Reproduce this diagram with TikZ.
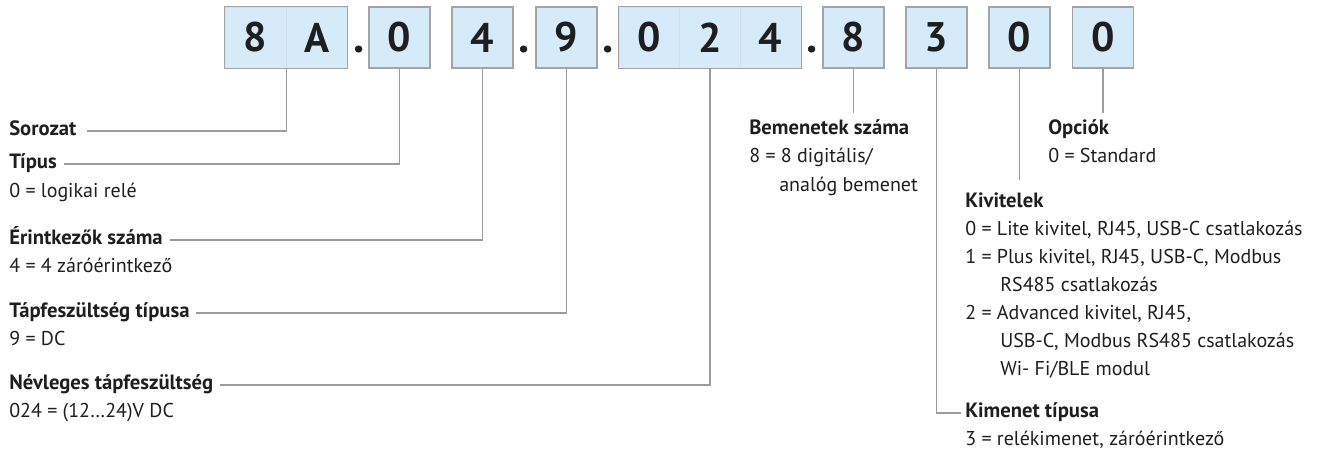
\documentclass[tikz,border=0pt]{standalone}
\usepackage{fontspec}
\setmainfont{PT Sans}
\usetikzlibrary{positioning}
\definecolor{CodeFill}{HTML}{D5EBFA}
\definecolor{CodeEdge}{HTML}{A4A4A4}
\definecolor{LeadGrey}{HTML}{9C9C9C}
\definecolor{InkDark}{HTML}{1E1E1E}

\begin{document}
\begin{tikzpicture}[x=0.75pt,y=-0.75pt,
    cell/.style={draw=CodeEdge,fill=CodeFill,line width=0.9pt,minimum width=45.75pt,minimum height=45.75pt,inner sep=0pt,font=\fontsize{31}{31}\selectfont\bfseries,text=InkDark},
    subcell/.style={cell,draw=CodeFill!85!CodeEdge,line width=0.5pt},
    dot/.style={anchor=base,inner sep=0pt,font=\fontsize{34}{34}\selectfont\bfseries,text=InkDark},
    head/.style={anchor=west,inner sep=0pt,font=\fontsize{15.5}{18}\selectfont\bfseries,text=InkDark,text height=10.5pt,text depth=3pt},
    desc/.style={anchor=west,inner sep=0pt,font=\fontsize{15}{18}\selectfont,text=InkDark,text height=10.5pt,text depth=3pt},
    lead/.style={draw=LeadGrey,line width=0.8pt}]
  \useasboundingbox (0,0) rectangle (1318,459);
  % code boxes
  \node[subcell] (c1) at (255.5,37.5) {8};
  \node[subcell] (c2) at (316.5,37.5) {A};
  \draw[cell,fill=none] (c1.north west) rectangle (c2.south east);
  \node[dot] (p1) at (359,53) {.};
  \node[cell] (b2) at (399.5,37.5) {0};
  \node[cell] (b3) at (482.5,37.5) {4};
  \node[dot] (p2) at (524,53) {.};
  \node[cell] (b4) at (566.5,37.5) {9};
  \node[dot] (p3) at (608,53) {.};
  \node[subcell] (d1) at (649.5,37.5) {0};
  \node[subcell] (d2) at (710,37.5) {2};
  \node[subcell] (d3) at (770.5,37.5) {4};
  \draw[cell,fill=none] (d1.north west) rectangle (d3.south east);
  \node[dot] (p4) at (812,53) {.};
  \node[cell] (b6) at (853.5,37.5) {8};
  \node[cell] (b7) at (936.5,37.5) {3};
  \node[cell] (b8) at (1019.5,37.5) {0};
  \node[cell] (b9) at (1103,37.5) {0};

  % left column
  \node[head] (ser) at (9,131) {Sorozat};
  \node[head] (typ) at (9,164) {Típus};
  \node[desc] (typd) at (9,193) {0 = logikai relé};
  \node[head] (cnt) at (9,240) {Érintkezők száma};
  \node[desc] (cntd) at (9,268) {4 = 4 záróérintkező};
  \node[head] (vtyp) at (9,313) {Tápfeszültség típusa};
  \node[desc] (vtypd) at (9,341) {9 = DC};
  \node[head] (vnom) at (9,385) {Névleges tápfeszültség};
  \node[desc] (vnomd) at (9,413) {024 = (12…24)V DC};

  % right column
  \node[head] (inp) at (749,130) {Bemenetek száma};
  \node[desc] (inpd) at (749,158) {8 = 8 digitális/};
  \node[desc] (inpd2) at (779,187) {analóg bemenet};
  \node[head] (opt) at (1048,130) {Opciók};
  \node[desc] (optd) at (1048,158) {0 = Standard};
  \node[head] (ver) at (965,203) {Kivitelek};
  \node[desc] (ver0) at (965,231) {0 = Lite kivitel, RJ45, USB-C csatlakozás};
  \node[desc] (ver1) at (965,259) {1 = Plus kivitel, RJ45, USB-C, Modbus};
  \node[desc] (ver1b) at (1000,287) {RS485 csatlakozás};
  \node[desc] (ver2) at (965,315) {2 = Advanced kivitel, RJ45,};
  \node[desc] (ver2b) at (1000,343) {USB-C, Modbus RS485 csatlakozás};
  \node[desc] (ver2c) at (1000,371) {Wi- Fi/BLE modul};
  \node[head] (out) at (965,413) {Kimenet típusa};
  \node[desc] (outd) at (965,441) {3 = relékimenet, záróérintkező};

  % leaders
  \draw[lead,shorten >=7.5pt] (c1.south east) |- (ser.east);
  \draw[lead,shorten >=5pt] (b2.south) |- (typ.east);
  \draw[lead,shorten >=5pt] (b3.south) |- (cnt.east);
  \draw[lead,shorten >=5pt] (b4.south) |- (vtyp.east);
  \draw[lead,shorten >=5pt] (d2.south) |- (vnom.east);
  \draw[lead,shorten >=5.5pt] (b6.south) -- (b6.south |- inp.north);
  \draw[lead,shorten >=5.5pt] (b9.south) -- (b9.south |- opt.north);
  \draw[lead,shorten >=10pt] (b8.south) -- (b8.south |- ver.north);
  \draw[lead,shorten >=3pt] (b7.south) |- (out.west);
\end{tikzpicture}
\end{document}
